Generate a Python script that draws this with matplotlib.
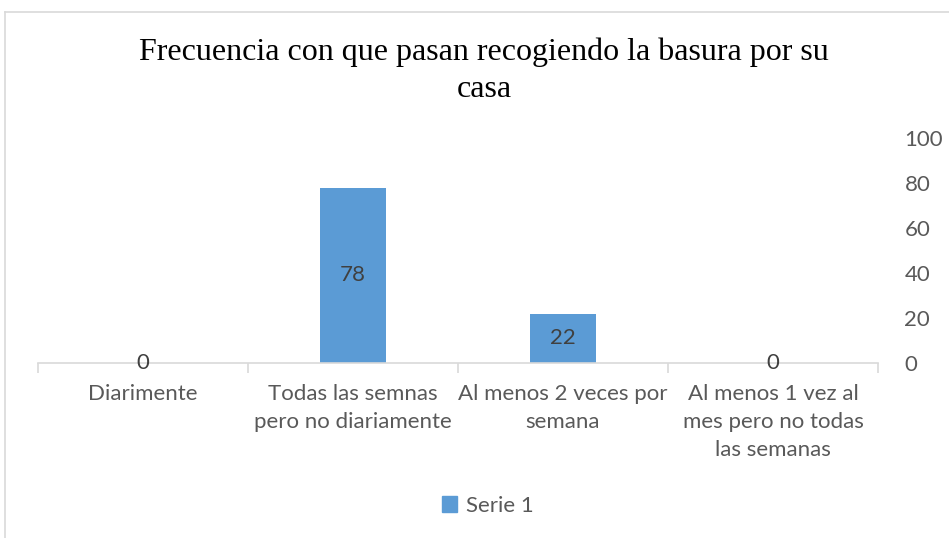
import matplotlib
matplotlib.use("Agg")
import matplotlib.pyplot as plt
from matplotlib.lines import Line2D
from matplotlib.patches import Patch

categories = ["Diarimente", "Todas las semnas\npero no diariamente",
              "Al menos 2 veces por\nsemana", "Al menos 1 vez al\nmes pero no todas\nlas semanas"]
values = [0, 78, 22, 0]
yticks = [0, 20, 40, 60, 80, 100]
title = "Frecuencia con que pasan recogiendo la basura por su\ncasa"
series_name = "Serie 1"

W, H = 949, 538
fig = plt.figure(figsize=(W/100, H/100), dpi=100)
ax = fig.add_axes([38/W, (H-363)/H, 840/W, 225/H])

txt = "#595959"
grid = "#d9d9d9"
blue = "#5B9BD5"
sans = ["Lato", "DejaVu Sans"]
fs = 16

x = list(range(len(categories)))
bars = ax.bar(x, values, width=0.31, color=blue, zorder=2)
ax.set_xlim(-0.5, len(categories) - 0.5)
ax.set_ylim(0, 100)

for xi, v in zip(x, values):
    ax.text(xi, v/2 if v > 0 else 0, str(v), ha="center", va="center",
            fontsize=fs, color="#404040", family=sans, zorder=3)

for s in ["top", "left", "right"]:
    ax.spines[s].set_visible(False)
ax.spines["bottom"].set_color(grid)
ax.spines["bottom"].set_linewidth(1.2)

ax.yaxis.tick_right()
ax.set_yticks(yticks)
ax.tick_params(axis="y", length=0, pad=19, labelsize=fs, labelcolor=txt)
ax.set_xticks(x)
ax.set_xticklabels(categories)
ax.set_xticks([i - 0.5 for i in range(len(categories) + 1)], minor=True)
ax.tick_params(axis="x", which="major", length=0, pad=15, labelsize=fs, labelcolor=txt)
ax.tick_params(axis="x", which="minor", length=7, width=1.2, color=grid)
for lab in ax.get_xticklabels() + ax.get_yticklabels():
    lab.set_family(sans)
    lab.set_linespacing(1.5)

fig.text(484/W, 1 - 71/H, title, ha="center", va="center", fontsize=23,
         family=["Liberation Serif", "DejaVu Serif"], color="black", linespacing=1.38)

leg = fig.legend(handles=[Patch(color=blue, label=series_name)], loc="center",
                 bbox_to_anchor=(488/W, 1 - 506/H), frameon=False,
                 prop={"family": sans, "size": fs}, handlelength=0.7, handleheight=0.7,
                 handletextpad=0.4)
for t in leg.get_texts():
    t.set_color(txt)

fig.add_artist(Line2D([5/W, 1], [1 - 12/H, 1 - 12/H], color=grid, lw=1.2))
fig.add_artist(Line2D([5/W, 5/W], [0, 1 - 12/H], color=grid, lw=1.2))

fig.savefig("out.png", dpi=100)
